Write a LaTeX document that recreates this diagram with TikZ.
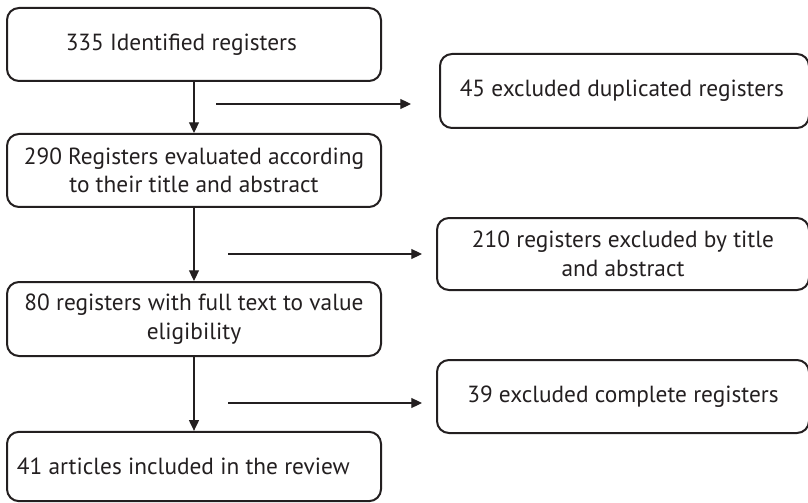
\documentclass[tikz,border=0pt]{standalone}
\usepackage{fontspec}
\setmainfont{PT Sans}
\usetikzlibrary{arrows.meta}
\definecolor{ink}{HTML}{231F20}
\begin{document}
\begin{tikzpicture}[x=0.75pt,y=-0.75pt,
  stagebox/.style={draw=ink, line width=1.5pt, rounded corners=9pt, inner sep=0pt,
    align=center, text=ink, font=\fontsize{17.5}{21.5}\selectfont},
  flow/.style={draw=ink, line width=0.8pt, -{Triangle[length=8pt,width=7.5pt]}}]
\useasboundingbox (0,0) rectangle (808,503);
% main column
\node[stagebox, minimum width=280.5pt, minimum height=54.75pt] (b1) at (194,44.5)
  {335 Identified registers\hspace*{19pt}};
\node[stagebox, minimum width=280.5pt, minimum height=54.75pt] (b2) at (194,170.5)
  {290 Registers evaluated according\\to their title and abstract};
\node[stagebox, minimum width=280.5pt, minimum height=55.5pt] (b3) at (194,319)
  {80 registers with full text to value\\eligibility};
\node[stagebox, minimum width=280.5pt, minimum height=52pt] (b4) at (194,466.5)
  {41 articles included in the review\hspace*{16pt}};
% excluded column
\node[stagebox, minimum width=276.75pt, minimum height=55.5pt] (e1) at (624.5,91)
  {45 excluded duplicated registers\hspace*{4pt}};
\node[stagebox, minimum width=279pt, minimum height=54pt] (e2) at (623,254)
  {210 registers excluded by title\\and abstract};
\node[stagebox, minimum width=279pt, minimum height=54.75pt] (e3) at (623,396.5)
  {39 excluded complete registers};
% vertical arrows
\draw[flow] (b1.south) -- (b2.north);
\draw[flow] (b2.south) -- (b3.north);
\draw[flow] (b3.south) -- (b4.north);
% horizontal arrows
\coordinate (h1s) at (216,104);
\coordinate (h1e) at (411,104);
\coordinate (h2s) at (228,254);
\coordinate (h2e) at (422,254);
\coordinate (h3s) at (228,403);
\coordinate (h3e) at (422,403);
\draw[flow] (h1s) -- (h1e);
\draw[flow] (h2s) -- (h2e);
\draw[flow] (h3s) -- (h3e);
\end{tikzpicture}
\end{document}
